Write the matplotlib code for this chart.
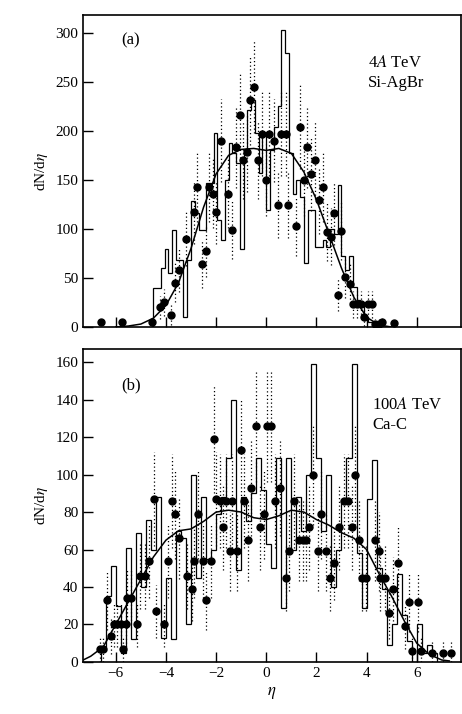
import numpy as np
import matplotlib
matplotlib.use("Agg")
import matplotlib.pyplot as plt

plt.rcParams.update({
    "font.family": ["Liberation Serif", "DejaVu Serif"],
    "mathtext.fontset": "stix",
    "font.size": 11,
})

# ---- panel (a): 4A TeV Si-AgBr ----
hist_a_start = -4.5
hist_a_width = 0.15
hist_a = [40, 40, 60, 79, 55, 99, 68, 68, 10, 68,
          128, 116, 99, 99, 147, 147, 198, 109, 89, 150,
          188, 177, 167, 79, 180, 221, 231, 198, 157, 198,
          119, 180, 204, 225, 303, 279, 177, 136, 150, 133,
          65, 119, 119, 82, 82, 89, 82, 100, 95, 145,
          72, 58, 72, 41, 28, 21, 10, 5, 5, 5, 5]

pts_a_x = [-6.60, -5.75, -4.57, -4.25, -4.08, -3.78, -3.62, -3.49, -3.19, -2.90,
           -2.77, -2.57, -2.41, -2.27, -2.11, -2.00, -1.82, -1.52, -1.37, -1.19,
           -1.06, -0.93, -0.78, -0.63, -0.47, -0.33, -0.15, -0.01, 0.12, 0.29,
           0.45, 0.60, 0.78, 0.88, 1.17, 1.33, 1.50, 1.63, 1.78, 1.96,
           2.09, 2.26, 2.41, 2.59, 2.72, 2.85, 3.00, 3.14, 3.33, 3.46,
           3.63, 3.79, 3.90, 4.06, 4.21, 4.32, 4.48, 4.61, 5.10]
pts_a_y = [5, 5, 5, 20, 25, 12, 45, 58, 90, 117,
           143, 64, 77, 143, 136, 117, 190, 136, 99, 183,
           216, 170, 178, 231, 245, 170, 197, 150, 197, 190,
           124, 197, 197, 124, 103, 204, 150, 183, 156, 170,
           129, 143, 97, 92, 116, 33, 98, 51, 44, 23,
           23, 23, 10, 23, 23, 3, 3, 5, 4]
pts_a_err = [0, 0, 6, 12, 14, 10, 20, 22, 28, 32,
             36, 24, 26, 36, 35, 32, 42, 35, 30, 41,
             44, 40, 40, 46, 47, 40, 43, 37, 43, 42,
             33, 43, 43, 33, 31, 43, 37, 41, 38, 40,
             34, 36, 30, 29, 32, 17, 30, 21, 20, 14,
             14, 14, 9, 14, 14, 5, 5, 6, 0]

curve_a_x = [-6.0, -5.5, -5.0, -4.5, -4.0, -3.5, -3.0, -2.5, -2.0, -1.5, -1.0, -0.5,
             0.0, 0.5, 1.0, 1.5, 2.0, 2.5, 3.0, 3.5, 4.0, 4.5, 5.0]
curve_a_y = [0, 1, 3, 9, 22, 45, 80, 122, 156, 175, 181, 182,
             180, 182, 177, 158, 130, 95, 60, 30, 10, 2, 0]

# ---- panel (b): 100A TeV Ca-C ----
hist_b_start = -6.6
hist_b_width = 0.2
hist_b = [6, 35, 51, 30, 5, 61, 12, 69, 40, 76,
          60, 88, 13, 45, 12, 70, 66, 20, 100, 45,
          88, 55, 60, 79, 88, 109, 140, 49, 88, 75,
          90, 109, 92, 63, 50, 109, 29, 109, 60, 88,
          70, 100, 159, 109, 70, 100, 40, 60, 87, 109,
          159, 58, 29, 87, 108, 50, 39, 9, 20, 47,
          25, 11, 0, 20, 5, 9, 5]

pts_b_x = [-6.63, -6.50, -6.34, -6.20, -6.07, -5.94, -5.80, -5.70, -5.61, -5.54,
           -5.41, -5.15, -5.02, -4.82, -4.69, -4.49, -4.38, -4.07, -3.93, -3.76,
           -3.63, -3.46, -3.17, -2.97, -2.90, -2.71, -2.53, -2.40, -2.22, -2.09,
           -2.01, -1.85, -1.72, -1.61, -1.45, -1.35, -1.16, -1.02, -0.90, -0.73,
           -0.59, -0.42, -0.26, -0.07, 0.03, 0.20, 0.33, 0.53, 0.79, 0.90,
           1.12, 1.32, 1.45, 1.58, 1.72, 1.87, 2.05, 2.18, 2.38, 2.54,
           2.71, 2.90, 3.10, 3.27, 3.43, 3.54, 3.70, 3.83, 3.96, 4.33,
           4.51, 4.55, 4.73, 4.91, 5.06, 5.25, 5.54, 5.68, 5.83, 6.05,
           6.18, 6.60, 7.06, 7.37]
pts_b_y = [7, 7, 33, 14, 20, 20, 20, 7, 20, 34,
           34, 20, 46, 46, 54, 87, 27, 20, 54, 86,
           79, 66, 46, 39, 54, 79, 54, 33, 54, 119,
           87, 86, 72, 86, 59, 86, 59, 113, 86, 65,
           93, 126, 72, 79, 126, 126, 86, 93, 45, 59,
           86, 65, 65, 65, 72, 100, 59, 79, 59, 45,
           53, 72, 86, 86, 72, 100, 65, 45, 45, 65,
           59, 45, 45, 26, 39, 53, 19, 32, 6, 32,
           6, 5, 5, 5]
pts_b_err = [7, 7, 16, 10, 12, 12, 12, 7, 12, 16,
             16, 12, 18, 18, 20, 25, 14, 12, 20, 25,
             24, 22, 18, 17, 20, 24, 20, 16, 20, 29,
             25, 25, 23, 25, 21, 25, 21, 28, 25, 22,
             26, 30, 23, 24, 30, 30, 25, 26, 18, 21,
             25, 22, 22, 22, 23, 27, 21, 24, 21, 18,
             20, 23, 25, 25, 23, 27, 22, 18, 18, 22,
             21, 18, 18, 14, 17, 20, 12, 16, 7, 16,
             7, 6, 6, 6]

curve_b_x = [-7.3, -7.0, -6.5, -6.0, -5.5, -5.0, -4.5, -4.0, -3.5, -3.0, -2.5, -2.0,
             -1.5, -1.0, -0.5, 0.0, 0.5, 1.0, 1.5, 2.0, 2.5, 3.0, 3.5, 4.0,
             4.5, 5.0, 5.5, 6.0, 6.5, 7.0, 7.3]
curve_b_y = [1, 3, 8, 20, 32, 44, 56, 65, 70, 71, 75, 80,
             81, 80, 77, 76, 78, 81, 80, 76, 73, 69, 66, 60,
             47, 35, 22, 10, 4, 1, 0.5]


def draw_panel(ax, start, width, hist, px, py, perr, cx, cy):
    edges = start + width * np.arange(len(hist) + 1)
    ax.stairs(hist, edges, color='black', linewidth=0.9)
    px = np.array(px)
    py = np.array(py)
    perr = np.array(perr)
    ax.vlines(px, np.clip(py - perr, 0, None), py + perr, colors='black',
              linestyles=(0, (1, 2)), linewidth=0.9)
    ax.plot(px, py, 'o', color='black', markersize=5)
    ax.plot(cx, cy, color='black', linewidth=1.1)
    ax.set_xlim(-7.3, 7.75)
    ax.set_xticks(np.arange(-6, 7, 2))
    ax.tick_params(direction='in', length=7, width=1.0, labelsize=11)
    for s in ax.spines.values():
        s.set_linewidth(1.2)
    ax.set_ylabel('dN/d$\\eta$', fontsize=11)


fig = plt.figure(figsize=(4.62, 7.14), dpi=100)
ax1 = fig.add_axes([0.18, 0.542, 0.817, 0.437])
ax2 = fig.add_axes([0.18, 0.073, 0.817, 0.438])

draw_panel(ax1, hist_a_start, hist_a_width, hist_a, pts_a_x, pts_a_y, pts_a_err,
           curve_a_x, curve_a_y)
ax1.set_ylim(0, 318)
ax1.set_yticks(np.arange(0, 301, 50))
ax1.set_xticklabels([])
ax1.text(0.1, 0.905, '(a)', transform=ax1.transAxes, fontsize=12)
ax1.text(0.755, 0.77, '4$\\mathit{A}$ TeV\nSi-AgBr', transform=ax1.transAxes,
         fontsize=12, linespacing=1.3)

draw_panel(ax2, hist_b_start, hist_b_width, hist_b, pts_b_x, pts_b_y, pts_b_err,
           curve_b_x, curve_b_y)
ax2.set_ylim(0, 167)
ax2.set_yticks(np.arange(0, 161, 20))
ax2.set_xticklabels(['\u22126', '\u22124', '\u22122', '0', '2', '4', '6'])
ax2.set_xlabel('$\\eta$', fontsize=12)
ax2.text(0.1, 0.87, '(b)', transform=ax2.transAxes, fontsize=12)
ax2.text(0.765, 0.745, '100$\\mathit{A}$ TeV\nCa-C', transform=ax2.transAxes,
         fontsize=12, linespacing=1.3)

fig.savefig('out.png', dpi=100)
